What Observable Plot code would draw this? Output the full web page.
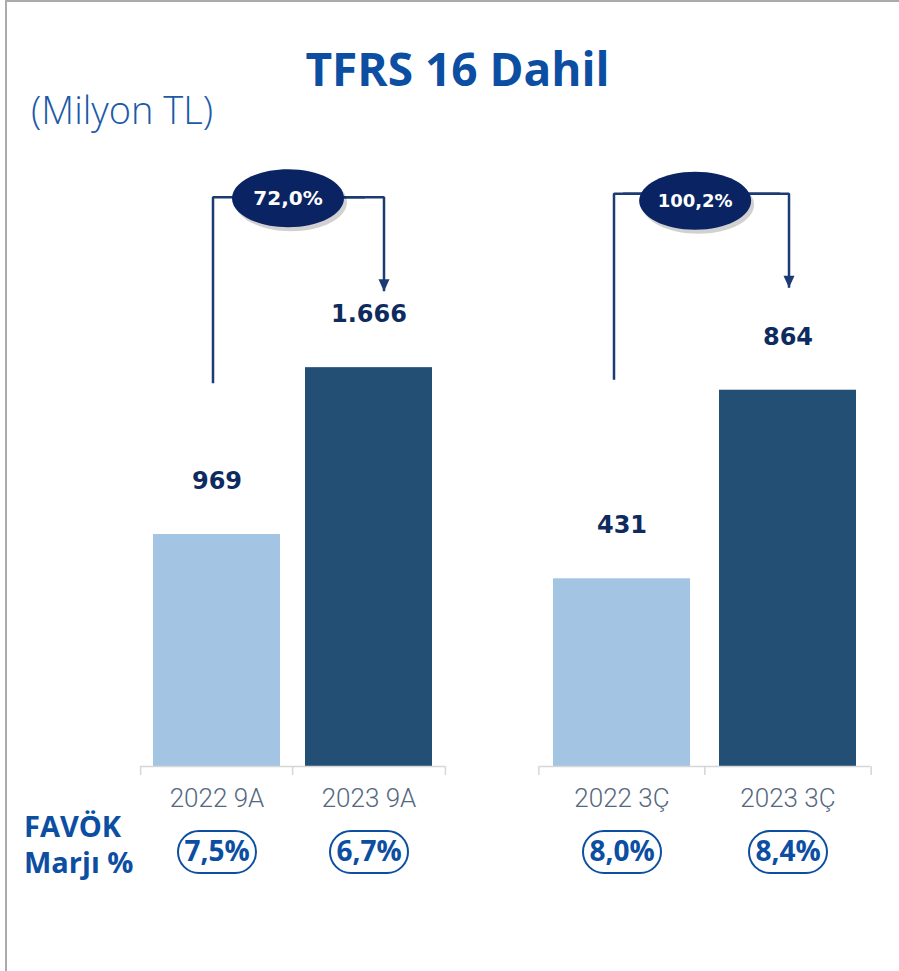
<!DOCTYPE html>
<html>
<head>
<meta charset="utf-8">
<script src="https://cdn.jsdelivr.net/npm/d3@7"></script>
<script src="https://cdn.jsdelivr.net/npm/@observablehq/plot@0.6"></script>
<style>
  body { margin: 0; background: #fff; }
  #wrap { position: relative; width: 899px; height: 971px; overflow: hidden; background: #fff; }
  #border { position: absolute; left: 5px; top: 0; width: 900px; height: 975px; border-left: 2px solid #ababab; border-top: 2px solid #ababab; box-sizing: border-box; }
  .abs { position: absolute; }
  #title { left: 8px; width: 899px; top: 45px; text-align: center; font: 700 46px/1 "Open Sans", sans-serif; color: #0b4ea2; white-space: nowrap; }
  #unit { left: 31px; top: 90px; font: 300 38px/1 "Open Sans", sans-serif; color: #1a5aa8; white-space: nowrap; }
  #favok { left: 24px; top: 808px; font: 700 29px/36px "Open Sans", sans-serif; color: #0b4ea2; white-space: nowrap; }
  #left { left: 0; top: 0; }
  #right { left: 449px; top: 0; }
</style>
</head>
<body>
<div id="wrap">
  <div id="border"></div>
  <div id="title" class="abs">TFRS 16 Dahil</div>
  <div id="unit" class="abs">(Milyon TL)</div>
  <div id="favok" class="abs">FAVÖK<br>Marjı %</div>
  <div id="left" class="abs"></div>
  <div id="right" class="abs"></div>
</div>
<script>
// ---- data ----
const leftCategories = ["2022 9A", "2023 9A"];
const leftValues = [969, 1666];
const leftMargins = ["7,5%", "6,7%"];
const leftGrowth = "72,0%";

const rightCategories = ["2022 3Ç", "2023 3Ç"];
const rightValues = [431, 864];
const rightMargins = ["8,0%", "8,4%"];
const rightGrowth = "100,2%";

const barColors = ["#a3c4e2", "#244f75"];

// ---- helpers ----
const fmt = d3.formatLocale({decimal: ",", thousands: ".", grouping: [3], currency: ["", ""]}).format(",d");
const navy = "#1c3b73";

const ellipseSymbol = {
  draw(ctx) {
    const rx = 56, ry = 29, kx = rx * 0.5523, ky = ry * 0.5523;
    ctx.moveTo(-rx, 0);
    ctx.bezierCurveTo(-rx, -ky, -kx, -ry, 0, -ry);
    ctx.bezierCurveTo(kx, -ry, rx, -ky, rx, 0);
    ctx.bezierCurveTo(rx, ky, kx, ry, 0, ry);
    ctx.bezierCurveTo(-kx, ry, -rx, ky, -rx, 0);
    ctx.closePath();
  }
};
const pillSymbol = {
  draw(ctx) {
    const hw = 39, hh = 21, r = 21;
    ctx.moveTo(-hw + r, -hh);
    ctx.lineTo(hw - r, -hh);
    ctx.arc(hw - r, 0, r, -Math.PI / 2, Math.PI / 2);
    ctx.lineTo(-hw + r, hh);
    ctx.arc(-hw + r, 0, r, Math.PI / 2, 3 * Math.PI / 2);
    ctx.closePath();
  }
};
const arrowHeadSymbol = {
  draw(ctx) {
    ctx.moveTo(-5.5, -12);
    ctx.lineTo(5.5, -12);
    ctx.lineTo(0, 0);
    ctx.closePath();
  }
};

function panel(cfg) {
  const H = 971, baseY = 766;
  const frameH = baseY - cfg.marginTop;
  const ppu = frameH / cfg.yTop;
  const W = cfg.width - cfg.marginLeft - cfg.marginRight;
  const pI = cfg.paddingInner, pO = 0.08;
  const step = W / (2 - pI + 2 * pO);
  const data = cfg.categories.map((c, i) => ({cat: c, value: cfg.values[i], margin: cfg.margins[i], color: barColors[i]}));
  const top = cfg.yTop;
  const legBottom = top - 186 / ppu;
  const tip = top - 94 / ppu;
  const [c1, c2] = cfg.categories;
  const tickLen = 9 / ppu;
  return Plot.plot({
    width: cfg.width,
    height: H,
    marginLeft: cfg.marginLeft,
    marginRight: cfg.marginRight,
    marginTop: cfg.marginTop,
    marginBottom: H - baseY,
    style: {background: "transparent", overflow: "visible", fontFamily: "Roboto"},
    x: {domain: cfg.categories, paddingInner: pI, paddingOuter: pO, axis: null},
    y: {domain: [0, top], axis: null},
    marks: [
      Plot.barY(data, {x: "cat", y: "value", fill: "color"}),
      Plot.ruleY([0], {stroke: "#d6d6d6", strokeWidth: 1.5}),
      Plot.ruleX([c1, c2], {x: d => d, dx: -step / 2, y1: 0, y2: -tickLen, stroke: "#d6d6d6", strokeWidth: 1.5}),
      Plot.ruleX([c2], {x: d => d, dx: step / 2, y1: 0, y2: -tickLen, stroke: "#d6d6d6", strokeWidth: 1.5}),
      Plot.text(data, {x: "cat", y: "value", text: d => fmt(d.value), dy: -53, lineAnchor: "middle",
        fontFamily: "DejaVu Sans", fontWeight: "bold", fontSize: 24, fill: "#0d2b5e"}),
      Plot.text(data, {x: "cat", y: 0, text: "cat", dy: 32, lineAnchor: "middle",
        fontFamily: "Roboto", fontWeight: 300, fontSize: 26, fill: "#55687f"}),
      Plot.dot(data, {x: "cat", y: 0, dy: 85.5, symbol: pillSymbol, r: 10, stroke: "#0b4ea2", strokeWidth: 2, fill: "white"}),
      Plot.text(data, {x: "cat", y: 0, dy: 85.5, text: "margin", lineAnchor: "middle",
        fontFamily: "Open Sans", fontWeight: 700, fontSize: 28, fill: "#0b4ea2"}),
      Plot.line([{x: c1, y: legBottom}, {x: c1, y: top}, {x: c2, y: top}], {x: "x", y: "y", dx: cfg.legDx, stroke: navy, strokeWidth: 2.5, strokeLinejoin: "miter", strokeLinecap: "butt"}),
      Plot.line([{x: c1, y: top}, {x: c2, y: top}, {x: c2, y: tip}], {x: "x", y: "y", dx: cfg.tipDx, stroke: navy, strokeWidth: 2.5, strokeLinejoin: "miter", strokeLinecap: "butt"}),
      Plot.dot([{x: c2, y: tip}], {x: "x", y: "y", dx: cfg.tipDx, symbol: arrowHeadSymbol, r: 5, fill: navy, stroke: null}),
      Plot.dot([cfg.growth], {y: () => top, dx: cfg.ellDx + 3, dy: cfg.ellDy + 4, symbol: ellipseSymbol, r: 10, fill: "#000", fillOpacity: 0.18, stroke: null}),
      Plot.dot([cfg.growth], {y: () => top, dx: cfg.ellDx, dy: cfg.ellDy, symbol: ellipseSymbol, r: 10, fill: "#0a2463", stroke: null}),
      Plot.text([cfg.growth], {y: () => top, dx: cfg.ellDx, dy: cfg.ellDy, text: d => d, lineAnchor: "middle",
        fontFamily: "DejaVu Sans", fontWeight: "bold", fontSize: cfg.growthFontSize, fill: "white"})
    ]
  });
}

document.getElementById("left").append(panel({
  categories: leftCategories, values: leftValues, margins: leftMargins, growth: leftGrowth,
  width: 449, marginLeft: 140, marginRight: 4, marginTop: 196.7, yTop: 2378,
  paddingInner: 0.164, legDx: -4, tipDx: 15, ellDx: -5, ellDy: 1, growthFontSize: 20
}));
document.getElementById("right").append(panel({
  categories: rightCategories, values: rightValues, margins: rightMargins, growth: rightGrowth,
  width: 450, marginLeft: 90.3, marginRight: 29, marginTop: 193.3, yTop: 1315,
  paddingInner: 0.172, legDx: -8, tipDx: 1, ellDx: -10, ellDy: 7, growthFontSize: 18
}));
</script>
</body>
</html>
